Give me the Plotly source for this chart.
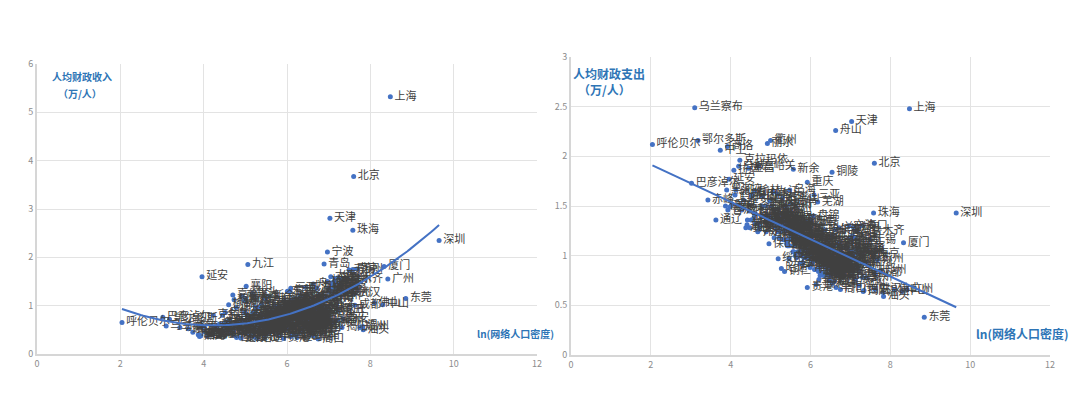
import numpy as np
import plotly.graph_objects as go

cities = [
    "上海", "北京", "天津", "珠海", "深圳", "宁波", "青岛", "九江", "延安", "厦门",
    "广州", "东莞", "成都", "佛山", "中山", "西安", "郑州", "温州", "无锡", "南京",
    "苏州", "常州", "杭州", "武汉", "汕头", "呼伦贝尔", "巴彦淖尔", "乌兰察布", "鄂尔多斯", "赤峰",
    "通辽", "中卫", "商洛", "克拉玛依", "新余", "铜陵", "舟山", "重庆", "芜湖", "襄阳",
    "衢州", "丽水", "白城", "嘉峪关", "金昌", "拉萨", "石家庄", "唐山", "秦皇岛", "邯郸",
    "邢台", "保定", "张家口", "承德", "沧州", "廊坊", "衡水", "太原", "大同", "阳泉",
    "长治", "晋城", "朔州", "晋中", "运城", "忻州", "临汾", "吕梁", "呼和浩特", "包头",
    "乌海", "沈阳", "大连", "鞍山", "抚顺", "本溪", "丹东", "锦州", "营口", "阜新",
    "辽阳", "盘锦", "铁岭", "朝阳", "葫芦岛", "长春", "吉林", "四平", "辽源", "通化",
    "白山", "松原", "哈尔滨", "齐齐哈尔", "鸡西", "鹤岗", "双鸭山", "大庆", "伊春", "佳木斯",
    "七台河", "牡丹江", "黑河", "绥化", "南通", "徐州", "连云港", "淮安", "盐城", "扬州",
    "镇江", "泰州", "宿迁", "嘉兴", "湖州", "绍兴", "金华", "台州", "合肥", "蚌埠",
    "淮南", "马鞍山", "淮北", "安庆", "黄山", "滁州", "阜阳", "宿州", "六安", "亳州",
    "池州", "宣城", "福州", "莆田", "三明", "泉州", "漳州", "南平", "龙岩", "宁德",
    "南昌", "景德镇", "萍乡", "鹰潭", "赣州", "吉安", "宜春", "抚州", "上饶", "济南",
    "淄博", "枣庄", "东营", "烟台", "潍坊", "济宁", "泰安", "威海", "日照", "临沂",
    "德州", "聊城", "滨州", "菏泽", "开封", "洛阳", "平顶山", "安阳", "鹤壁", "新乡",
    "焦作", "濮阳", "许昌", "漯河", "三门峡", "南阳", "商丘", "信阳", "周口", "驻马店",
    "黄石", "十堰", "宜昌", "鄂州", "荆门", "孝感", "荆州", "黄冈", "咸宁", "随州",
    "株洲", "湘潭", "衡阳", "邵阳", "岳阳", "常德", "张家界", "益阳", "郴州", "永州",
    "怀化", "娄底", "韶关", "江门", "湛江", "茂名", "肇庆", "惠州", "梅州", "汕尾",
    "河源", "阳江", "清远", "潮州", "揭阳", "云浮", "南宁", "柳州", "桂林", "梧州",
    "北海", "钦州", "贵港", "玉林", "百色", "河池", "海口", "三亚", "自贡", "攀枝花",
    "泸州", "德阳", "绵阳", "广元", "遂宁", "内江", "乐山", "南充", "眉山", "宜宾",
    "广安", "达州", "雅安", "巴中", "资阳", "贵阳", "六盘水", "遵义", "安顺", "毕节",
    "铜仁", "昆明", "曲靖", "玉溪", "保山", "昭通", "丽江", "普洱", "临沧", "西宁",
    "银川", "石嘴山", "吴忠", "固原", "兰州", "白银", "天水", "武威", "张掖", "平凉",
    "酒泉", "庆阳", "定西", "陇南", "乌鲁木齐", "宝鸡", "咸阳", "铜川", "渭南", "汉中",
    "榆林", "安康", "长沙",
]

ln_density = [
    8.48, 7.60, 7.03, 7.58, 9.65, 6.97, 6.89, 5.06, 3.96, 8.33,
    8.42, 8.85, 7.63, 8.10, 8.30, 7.34, 7.75, 7.82, 7.49, 7.58,
    7.68, 7.40, 6.97, 7.62, 7.83, 2.04, 3.02, 3.10, 3.18, 3.43,
    3.63, 3.74, 3.92, 4.23, 5.57, 6.54, 6.63, 5.92, 6.18, 5.02,
    5.00, 4.92, 4.20, 4.70, 4.45, 4.08, 7.02, 6.62, 5.96, 6.73,
    6.38, 6.31, 4.62, 4.38, 6.22, 7.00, 6.12, 7.20, 5.42, 6.04,
    5.78, 5.69, 5.23, 5.33, 5.91, 4.83, 5.52, 5.05, 4.98, 5.17,
    5.48, 7.08, 7.05, 6.13, 5.37, 5.03, 5.12, 5.87, 6.19, 5.28,
    6.02, 6.07, 5.31, 4.87, 5.63, 6.62, 4.97, 5.22, 5.41, 4.78,
    4.52, 4.73, 6.35, 4.68, 4.42, 4.11, 4.28, 5.21, 3.87, 4.58,
    4.91, 4.47, 3.90, 5.19, 7.18, 6.88, 6.48, 6.53, 6.29, 7.00,
    7.10, 6.77, 6.62, 7.30, 6.71, 7.22, 7.06, 7.15, 7.15, 6.41,
    6.49, 6.43, 6.63, 5.82, 5.08, 6.08, 6.64, 6.33, 5.61, 6.21,
    5.38, 5.72, 7.12, 7.22, 4.99, 7.40, 6.17, 4.88, 5.18, 5.58,
    7.05, 5.79, 6.11, 5.93, 5.43, 5.29, 5.71, 5.51, 5.89, 7.10,
    6.98, 6.57, 6.01, 6.32, 6.37, 6.51, 6.42, 6.44, 6.39, 6.36,
    6.23, 6.47, 6.03, 6.54, 6.61, 6.28, 6.40, 6.56, 6.46, 6.52,
    6.70, 6.67, 7.02, 7.12, 5.36, 5.99, 6.60, 5.68, 6.75, 6.24,
    6.26, 5.16, 5.39, 6.76, 5.59, 6.34, 6.05, 5.88, 5.64, 5.56,
    6.06, 6.45, 5.97, 5.81, 5.86, 5.57, 5.13, 5.83, 5.44, 5.62,
    5.09, 6.04, 5.26, 6.95, 6.50, 6.48, 5.60, 6.90, 5.41, 6.20,
    5.19, 5.77, 5.32, 7.22, 7.32, 5.73, 6.62, 5.63, 5.38, 5.58,
    6.00, 5.74, 5.92, 6.14, 4.61, 4.72, 7.28, 6.09, 6.42, 5.24,
    5.97, 6.30, 5.47, 5.01, 6.35, 6.27, 5.53, 6.10, 5.91, 5.84,
    6.13, 5.80, 4.32, 5.46, 6.18, 6.98, 5.94, 5.42, 5.78, 5.65,
    5.35, 6.55, 5.44, 5.21, 4.96, 5.27, 4.02, 3.93, 4.48, 5.49,
    5.37, 5.30, 4.53, 4.79, 6.72, 4.59, 5.40, 4.41, 4.13, 5.11,
    3.98, 4.51, 4.89, 4.71, 7.15, 5.50, 6.41, 5.34, 6.00, 5.20,
    4.60, 4.90, 7.28,
]

revenue = [
    5.32, 3.67, 2.81, 2.56, 2.35, 2.11, 1.86, 1.85, 1.60, 1.81,
    1.55, 1.15, 1.01, 1.06, 1.02, 0.73, 0.55, 0.57, 1.74, 1.75,
    1.76, 1.55, 1.50, 1.25, 0.50, 0.65, 0.76, 0.58, 0.72, 0.55,
    0.52, 0.45, 0.38, 0.80, 1.20, 1.10, 1.45, 0.90, 1.10, 1.40,
    1.15, 1.20, 0.40, 1.22, 0.80, 0.38, 0.92, 1.15, 1.02, 0.55,
    0.47, 0.64, 0.68, 0.62, 0.82, 1.30, 0.55, 1.35, 0.74, 0.97,
    1.00, 1.01, 0.86, 0.71, 0.65, 0.60, 0.60, 0.74, 1.10, 1.25,
    1.14, 1.40, 1.60, 1.12, 0.80, 0.82, 0.61, 0.78, 1.15, 0.46,
    0.96, 1.30, 0.50, 0.52, 0.61, 1.06, 0.69, 0.45, 0.64, 0.96,
    0.86, 1.12, 0.90, 0.45, 0.44, 0.40, 0.52, 1.16, 0.40, 0.50,
    0.55, 0.62, 0.36, 0.36, 1.48, 0.92, 0.95, 0.91, 1.15, 1.36,
    1.48, 1.22, 0.79, 1.55, 1.36, 1.58, 1.25, 1.20, 1.30, 0.66,
    0.61, 1.18, 0.62, 0.67, 0.73, 0.91, 0.37, 0.45, 0.48, 0.39,
    0.71, 0.98, 1.45, 0.90, 0.86, 1.25, 1.03, 0.66, 0.85, 0.83,
    1.28, 0.94, 1.01, 1.12, 0.65, 0.62, 0.90, 0.71, 0.79, 1.36,
    1.15, 0.77, 1.30, 1.22, 0.99, 0.80, 0.77, 1.38, 0.94, 0.72,
    0.80, 0.59, 0.97, 0.48, 0.60, 0.92, 0.66, 0.61, 0.74, 0.63,
    0.79, 0.54, 0.72, 0.66, 0.82, 0.50, 0.40, 0.47, 0.31, 0.34,
    1.07, 0.62, 1.04, 0.86, 0.77, 0.53, 0.63, 0.50, 0.66, 0.54,
    1.08, 0.86, 0.77, 0.38, 0.90, 0.67, 0.55, 0.70, 0.76, 0.49,
    0.49, 0.72, 0.72, 0.99, 0.65, 0.58, 0.78, 1.18, 0.55, 0.60,
    0.55, 0.83, 0.72, 0.70, 0.55, 0.70, 0.86, 0.94, 0.70, 0.59,
    0.90, 0.62, 0.32, 0.41, 0.70, 0.46, 1.35, 1.36, 0.61, 0.97,
    0.78, 0.80, 0.72, 0.54, 0.50, 0.62, 0.76, 0.36, 0.77, 0.80,
    0.42, 0.55, 0.58, 0.34, 0.55, 1.15, 0.83, 0.76, 0.75, 0.49,
    0.50, 1.08, 0.65, 0.84, 0.44, 0.32, 0.46, 0.38, 0.48, 0.71,
    0.99, 0.94, 0.66, 0.34, 0.92, 0.60, 0.42, 0.45, 0.40, 0.37,
    0.55, 0.56, 0.33, 0.40, 1.55, 0.72, 0.66, 0.62, 0.52, 0.44,
    1.02, 0.33, 1.45,
]

expenditure = [
    2.48, 1.93, 2.35, 1.43, 1.43, 1.30, 1.10, 1.64, 1.77, 1.13,
    0.66, 0.38, 0.82, 0.66, 0.64, 0.65, 0.85, 0.63, 1.16, 1.01,
    0.96, 0.93, 0.92, 0.66, 0.59, 2.12, 1.73, 2.49, 2.16, 1.56,
    1.36, 2.06, 2.10, 1.96, 1.87, 1.84, 2.26, 1.74, 1.54, 1.35,
    2.16, 2.13, 1.90, 1.90, 1.88, 1.86, 0.98, 1.10, 1.22, 0.82,
    0.88, 0.92, 1.42, 1.28, 0.96, 1.05, 0.95, 1.08, 1.35, 1.16,
    1.15, 1.27, 1.42, 1.30, 1.05, 1.40, 1.20, 1.33, 1.55, 1.62,
    1.66, 1.28, 1.20, 1.20, 1.36, 1.50, 1.36, 1.16, 1.14, 1.30,
    1.17, 1.40, 1.25, 1.34, 1.15, 1.26, 1.40, 1.18, 1.31, 1.50,
    1.60, 1.30, 1.26, 1.24, 1.36, 1.61, 1.46, 1.38, 1.50, 1.38,
    1.40, 1.45, 1.66, 0.97, 1.05, 0.90, 0.98, 0.97, 1.04, 1.01,
    1.06, 0.96, 0.86, 0.78, 1.12, 1.04, 0.97, 0.90, 1.02, 0.97,
    0.97, 1.14, 0.91, 1.06, 1.46, 1.10, 0.68, 0.80, 1.10, 0.76,
    1.48, 1.26, 1.18, 0.84, 1.56, 0.78, 1.05, 1.50, 1.47, 1.26,
    1.16, 1.30, 1.20, 1.34, 1.25, 1.35, 1.20, 1.31, 1.10, 1.01,
    0.91, 0.82, 1.35, 1.05, 0.93, 0.86, 0.88, 1.14, 0.92, 0.80,
    0.88, 0.80, 1.00, 0.72, 0.86, 0.94, 0.88, 0.83, 0.92, 0.86,
    0.92, 0.80, 0.80, 0.76, 1.25, 0.88, 0.74, 1.04, 0.66, 0.80,
    1.08, 1.32, 1.30, 1.05, 1.16, 0.90, 0.94, 0.98, 1.15, 1.04,
    1.10, 1.02, 1.00, 0.92, 1.05, 1.10, 1.38, 0.98, 1.16, 1.00,
    1.18, 0.92, 1.25, 0.96, 0.80, 0.75, 1.10, 1.08, 1.15, 0.84,
    1.24, 1.00, 1.16, 0.70, 0.64, 1.04, 1.10, 1.20, 1.16, 1.04,
    1.05, 0.92, 0.68, 0.71, 1.32, 1.26, 1.30, 1.61, 0.86, 1.36,
    0.98, 0.93, 1.10, 1.38, 0.82, 0.83, 1.16, 0.86, 0.98, 0.99,
    0.86, 0.93, 1.56, 0.97, 0.98, 1.18, 1.04, 1.10, 1.05, 0.98,
    0.84, 1.20, 1.10, 1.25, 1.12, 0.87, 1.51, 1.46, 1.28, 1.52,
    1.50, 1.58, 1.61, 1.60, 1.28, 1.42, 1.12, 1.31, 1.66, 1.28,
    1.49, 1.36, 1.24, 1.33, 1.25, 1.20, 0.96, 1.34, 0.90, 1.24,
    1.65, 1.40, 1.00,
]

assert len(cities) == len(ln_density) == len(revenue) == len(expenditure)

x_ticks = [0, 2, 4, 6, 8, 10, 12]

BLUE = "#4472C4"
TITLE_BLUE = "#2E75B6"
LABEL_GREY = "#404040"
TICK_GREY = "#8c8c8c"
GRID = "#e3e3e3"
FONT = "Noto Sans CJK SC, Noto Sans, sans-serif"

W, H = 1080, 397


def px_x(p):
    return p / W


def px_y(p):
    return 1 - p / H


fig = go.Figure()

# Left panel: revenue
fig.add_trace(go.Scatter(
    x=ln_density, y=revenue, text=cities, mode="markers+text",
    textposition="middle right",
    textfont=dict(size=11, color=LABEL_GREY, family=FONT),
    marker=dict(color=BLUE, size=5),
    xaxis="x", yaxis="y", showlegend=False, hoverinfo="skip",
))
coef_rev = np.polyfit(ln_density, revenue, 2)
xs_rev = np.linspace(min(ln_density), max(ln_density), 120)
fig.add_trace(go.Scatter(
    x=xs_rev, y=np.polyval(coef_rev, xs_rev), mode="lines",
    line=dict(color=BLUE, width=2), xaxis="x", yaxis="y",
    showlegend=False, hoverinfo="skip",
))

# Right panel: expenditure
fig.add_trace(go.Scatter(
    x=ln_density, y=expenditure, text=cities, mode="markers+text",
    textposition="middle right",
    textfont=dict(size=11, color=LABEL_GREY, family=FONT),
    marker=dict(color=BLUE, size=5),
    xaxis="x2", yaxis="y2", showlegend=False, hoverinfo="skip",
))
coef_exp = np.polyfit(ln_density, expenditure, 1)
xs_exp = np.array([min(ln_density), max(ln_density)])
fig.add_trace(go.Scatter(
    x=xs_exp, y=np.polyval(coef_exp, xs_exp), mode="lines",
    line=dict(color=BLUE, width=2), xaxis="x2", yaxis="y2",
    showlegend=False, hoverinfo="skip",
))

axis_common = dict(
    showgrid=True, gridcolor=GRID, gridwidth=1, zeroline=False,
    showline=True, linecolor="#d6d6d6", linewidth=2, ticks="",
    tickfont=dict(size=9, color=TICK_GREY, family=FONT), fixedrange=True,
    automargin=False,
)

fig.update_layout(
    width=W, height=H,
    margin=dict(l=0, r=0, t=0, b=0, autoexpand=False),
    paper_bgcolor="white", plot_bgcolor="white",
    font=dict(family=FONT),
    xaxis=dict(domain=[px_x(37), px_x(537)], range=[0, 12], tickvals=x_ticks,
               anchor="y", **axis_common),
    yaxis=dict(domain=[px_y(354), px_y(64)], range=[0, 6], dtick=1,
               anchor="x", **axis_common),
    xaxis2=dict(domain=[px_x(571), px_x(1050)], range=[0, 12], tickvals=x_ticks,
                anchor="y2", **axis_common),
    yaxis2=dict(domain=[px_y(355), px_y(57)], range=[0, 3], dtick=0.5,
                anchor="x2", **axis_common),
)

annots = [
    dict(text="<b>人均财政收入</b>", x=px_x(82), y=px_y(76), size=10),
    dict(text="<b>（万/人）</b>", x=px_x(80), y=px_y(93), size=10),
    dict(text="<b>人均财政支出</b>", x=px_x(609), y=px_y(73), size=12),
    dict(text="<b>（万/人）</b>", x=px_x(604), y=px_y(89), size=12),
]
for a in annots:
    fig.add_annotation(text=a["text"], x=a["x"], y=a["y"], xref="paper", yref="paper",
                       xanchor="center", yanchor="middle", showarrow=False,
                       font=dict(size=a["size"], color=TITLE_BLUE, family=FONT))

fig.add_annotation(text="<b>ln(网络人口密度)</b>", x=px_x(475), y=px_y(333),
                   xref="paper", yref="paper", xanchor="left", yanchor="middle",
                   showarrow=False, font=dict(size=10, color=TITLE_BLUE, family=FONT))
fig.add_annotation(text="<b>ln(网络人口密度)</b>", x=px_x(974), y=px_y(333),
                   xref="paper", yref="paper", xanchor="left", yanchor="middle",
                   showarrow=False, font=dict(size=12, color=TITLE_BLUE, family=FONT))

fig.write_html("out.html", post_script="document.body.style.margin='0';",
               config={"displayModeBar": False})
